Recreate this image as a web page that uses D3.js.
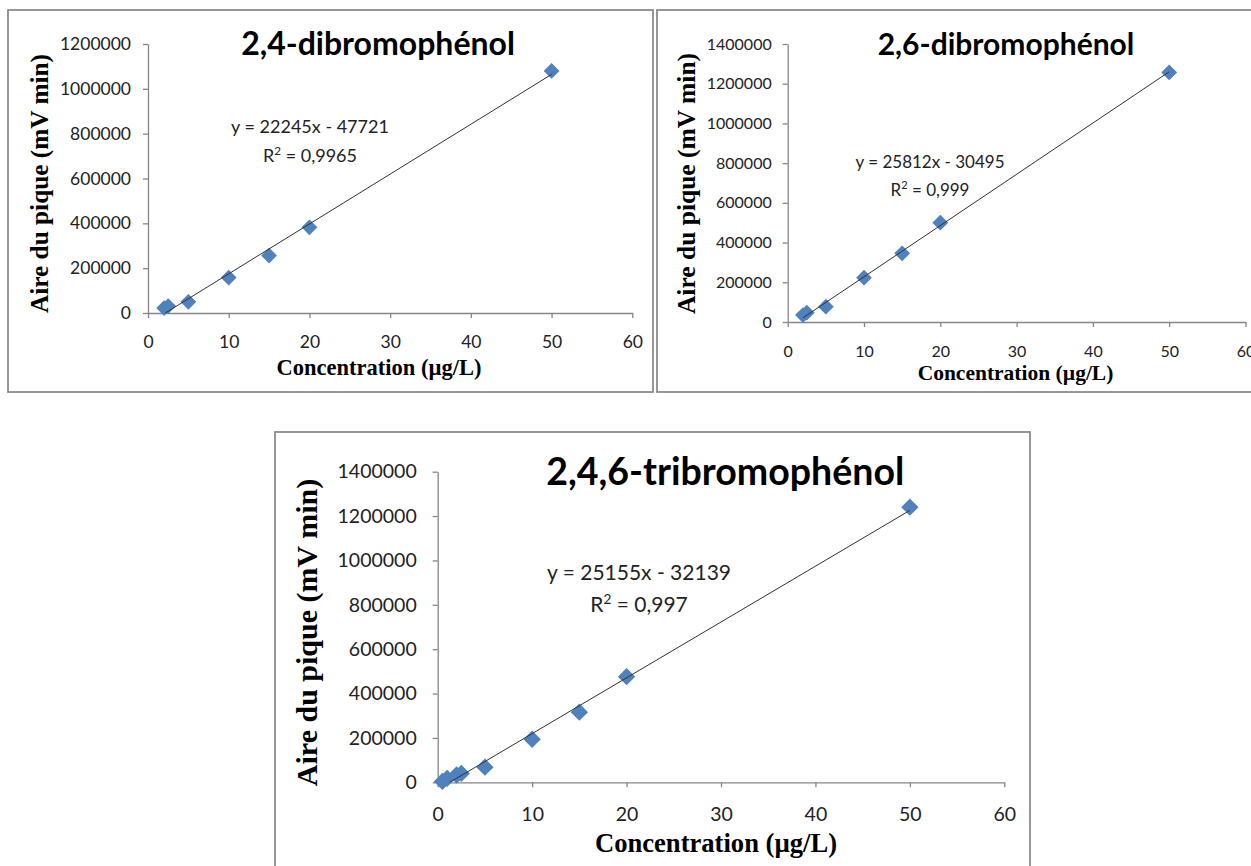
<!DOCTYPE html>
<html>
<head>
<meta charset="utf-8">
<script src="https://cdn.jsdelivr.net/npm/d3@7"></script>
<style>
  body { margin: 0; background: #fff; }
  svg { display: block; }
</style>
</head>
<body>
<div id="chart"></div>
<script>
// data
const conc24 = [2, 2.5, 5, 10, 15, 20, 50];
const aire24 = [22000, 31000, 50000, 158000, 256000, 382000, 1080000];
const conc26 = [2, 2.5, 5, 10, 15, 20, 50];
const aire26 = [35000, 47000, 77000, 223000, 346000, 500000, 1257000];
const conc246 = [0.5, 1, 2, 2.5, 5, 10, 15, 20, 50];
const aire246 = [4000, 18000, 33000, 40000, 68000, 194000, 316000, 476000, 1240000];

const titles = ["2,4-dibromophénol", "2,6-dibromophénol", "2,4,6-tribromophénol"];
const slopes = [22245, 25812, 25155];
const intercepts = [-47721, -30495, -32139];
const equations = ["y = 22245x - 47721", "y = 25812x - 30495", "y = 25155x - 32139"];
const r2Values = ["0,9965", "0,999", "0,997"];

const xTicks = [0, 10, 20, 30, 40, 50, 60];
const yTicks12 = [0, 200000, 400000, 600000, 800000, 1000000, 1200000];
const yTicks14 = [0, 200000, 400000, 600000, 800000, 1000000, 1200000, 1400000];

const xLabel = "Concentration (µg/L)";
const yLabel = "Aire du pique (mV min)";

const W = 1251, H = 866;
const blue = "#4f81bd";
const axisGrey = "#868686";
const sans = "Lato, 'Open Sans', sans-serif";
const serif = "'Liberation Serif', 'Times New Roman', serif";

const svg = d3.select("#chart").append("svg")
  .attr("width", W)
  .attr("height", H);

const panels = [
  {
    x: conc24, y: aire24, yTicks: yTicks12, yMax: 1200000,
    box: [8, 10, 645, 382],
    plot: { left: 148, right: 632.3, top: 44, bottom: 313 },
    tickFs: 17.5, yLabRight: 131, xLabBase: 348,
    title: { cx: 378, base: 55, fs: 32 },
    eq: { cx: 310, base1: 133.3, base2: 161.7, fs: 18 },
    yTitle: { bx: 48, cy: 183.5, fs: 25.3 },
    xTitle: { cx: 379, base: 375, fs: 22.5 },
    mark: 125
  },
  {
    x: conc26, y: aire26, yTicks: yTicks14, yMax: 1400000,
    box: [657, 10, 640, 382],
    plot: { left: 787.7, right: 1245.5, top: 44, bottom: 322 },
    tickFs: 16, yLabRight: 771.7, xLabBase: 357,
    title: { cx: 1006, base: 55, fs: 30 },
    eq: { cx: 930, base1: 168, base2: 196, fs: 17 },
    yTitle: { bx: 694.5, cy: 183.5, fs: 25.5 },
    xTitle: { cx: 1015.5, base: 380, fs: 21.5 },
    mark: 125
  },
  {
    x: conc246, y: aire246, yTicks: yTicks14, yMax: 1400000,
    box: [275, 432, 755, 460],
    plot: { left: 437.7, right: 1004.3, top: 471.7, bottom: 782.3 },
    tickFs: 19.5, yLabRight: 416.7, xLabBase: 821.5,
    title: { cx: 725.3, base: 485, fs: 37.5 },
    eq: { cx: 639, base1: 580, base2: 612.3, fs: 21 },
    yTitle: { bx: 316.5, cy: 632.5, fs: 30 },
    xTitle: { cx: 716, base: 852, fs: 26.6 },
    mark: 150
  }
];

panels.forEach((p, i) => {
  const g = svg.append("g");

  // chart area border
  g.append("rect")
    .attr("x", p.box[0]).attr("y", p.box[1])
    .attr("width", p.box[2]).attr("height", p.box[3])
    .attr("fill", "#fff")
    .attr("stroke", "#8c8c8c")
    .attr("stroke-width", 1.8);

  const x = d3.scaleLinear().domain([0, 60]).range([p.plot.left, p.plot.right]);
  const y = d3.scaleLinear().domain([0, p.yMax]).range([p.plot.bottom, p.plot.top]);

  const tick = 5;

  const yAxis = g.append("g")
    .attr("transform", `translate(${p.plot.left},0)`)
    .call(d3.axisLeft(y)
      .tickValues(p.yTicks)
      .tickSize(tick)
      .tickSizeOuter(0)
      .tickPadding(p.plot.left - p.yLabRight - tick)
      .tickFormat(d3.format("d")));

  const xAxis = g.append("g")
    .attr("transform", `translate(0,${p.plot.bottom})`)
    .call(d3.axisBottom(x)
      .tickValues(xTicks)
      .tickSize(tick)
      .tickSizeOuter(0)
      .tickPadding(p.xLabBase - p.plot.bottom - tick - 0.71 * p.tickFs)
      .tickFormat(d3.format("d")));

  [yAxis, xAxis].forEach(a => {
    a.select(".domain").attr("stroke", axisGrey).attr("stroke-width", 1.3);
    a.selectAll(".tick line").attr("stroke", axisGrey).attr("stroke-width", 1.3);
    a.selectAll(".tick text")
      .attr("fill", "#222")
      .style("font-family", sans)
      .style("font-size", p.tickFs + "px");
  });

  // trendline, clipped to the plot area
  const clipId = "clip" + i;
  g.append("clipPath").attr("id", clipId)
    .append("rect")
    .attr("x", p.plot.left).attr("y", p.plot.top)
    .attr("width", p.plot.right - p.plot.left)
    .attr("height", p.plot.bottom - p.plot.top);

  const xr = d3.extent(p.x);

  // diamond markers
  const sym = d3.symbol().type(d3.symbolSquare).size(p.mark);
  g.selectAll("path.pt")
    .data(p.x.map((v, k) => [v, p.y[k]]))
    .join("path")
    .attr("class", "pt")
    .attr("d", sym)
    .attr("transform", d => `translate(${x(d[0])},${y(d[1])}) rotate(45)`)
    .attr("fill", blue);

  // trendline drawn over the markers like Excel
  g.append("line")
    .attr("clip-path", `url(#${clipId})`)
    .attr("x1", x(xr[0])).attr("y1", y(slopes[i] * xr[0] + intercepts[i]))
    .attr("x2", x(xr[1])).attr("y2", y(slopes[i] * xr[1] + intercepts[i]))
    .attr("stroke", "#333")
    .attr("stroke-width", 1);

  // title
  g.append("text")
    .attr("x", p.title.cx).attr("y", p.title.base)
    .attr("text-anchor", "middle")
    .style("font-family", sans)
    .style("font-weight", "bold")
    .style("font-size", p.title.fs + "px")
    .attr("fill", "#000")
    .text(titles[i]);

  // equation + R²
  g.append("text")
    .attr("x", p.eq.cx).attr("y", p.eq.base1)
    .attr("text-anchor", "middle")
    .style("font-family", sans)
    .style("font-size", p.eq.fs + "px")
    .attr("fill", "#222")
    .text(equations[i]);

  const r2 = g.append("text")
    .attr("x", p.eq.cx).attr("y", p.eq.base2)
    .attr("text-anchor", "middle")
    .style("font-family", sans)
    .style("font-size", p.eq.fs + "px")
    .attr("fill", "#222");
  r2.append("tspan").text("R");
  r2.append("tspan").attr("dy", -0.4 * p.eq.fs).style("font-size", (p.eq.fs * 0.65) + "px").text("2");
  r2.append("tspan").attr("dy", 0.4 * p.eq.fs).text(" = " + r2Values[i]);

  // axis titles
  g.append("text")
    .attr("transform", `translate(${p.yTitle.bx},${p.yTitle.cy}) rotate(-90)`)
    .attr("text-anchor", "middle")
    .style("font-family", serif)
    .style("font-weight", "bold")
    .style("font-size", p.yTitle.fs + "px")
    .attr("fill", "#000")
    .text(yLabel);

  g.append("text")
    .attr("x", p.xTitle.cx).attr("y", p.xTitle.base)
    .attr("text-anchor", "middle")
    .style("font-family", serif)
    .style("font-weight", "bold")
    .style("font-size", p.xTitle.fs + "px")
    .attr("fill", "#000")
    .text(xLabel);
});
</script>
</body>
</html>
